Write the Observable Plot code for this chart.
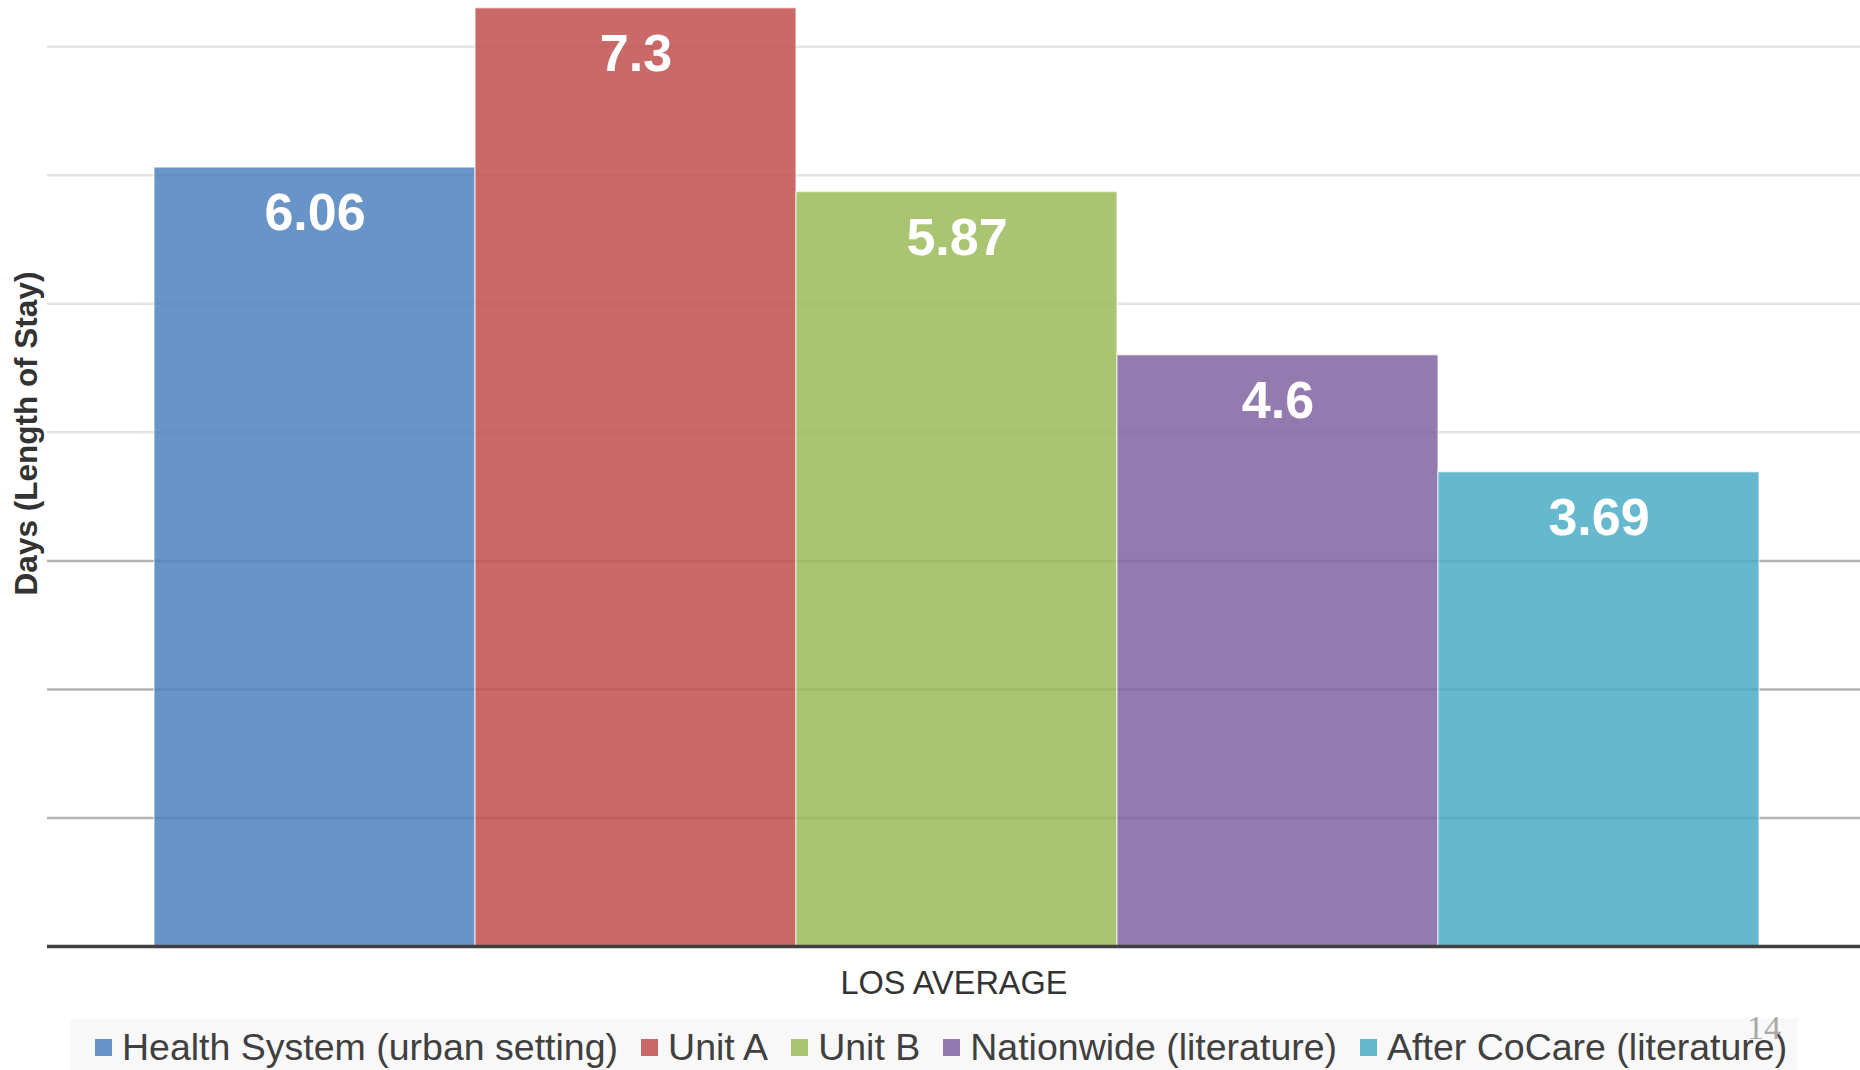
<!DOCTYPE html>
<html>
<head>
<meta charset="utf-8">
<script src="https://cdn.jsdelivr.net/npm/d3@7"></script>
<script src="https://cdn.jsdelivr.net/npm/@observablehq/plot@0.6"></script>
<style>
  html, body { margin: 0; padding: 0; background: #ffffff; }
  body { font-family: "Liberation Sans", Arial, sans-serif; }
  #wrap { position: relative; width: 1860px; height: 1070px; overflow: hidden; }
  #chart svg { display: block; }
  #legend {
    position: absolute; left: 70px; top: 1018px; width: 1728px; height: 52px;
    background: #f8f8f8; display: flex; align-items: center;
    padding-left: 25px; padding-top: 6px; box-sizing: border-box;
    font-size: 37.5px; color: #404040; white-space: nowrap;
  }
  .item { display: flex; align-items: center; margin-right: 23px; }
  .sw { width: 17px; height: 17px; margin-right: 10px; flex: none; }
  #page {
    position: absolute; left: 1747px; top: 1009px;
    font-family: "Liberation Serif", "DejaVu Serif", serif;
    font-size: 34px; color: #a8a8a8;
  }
</style>
</head>
<body>
<div id="wrap">
  <div id="chart"></div>
  <div id="legend"></div>
  <div id="page">14</div>
</div>
<script>
// Average length of stay, in days, by population
const series = [
  "Health System (urban setting)",
  "Unit A",
  "Unit B",
  "Nationwide (literature)",
  "After CoCare (literature)"
];
const values = [6.06, 7.3, 5.87, 4.6, 3.69];
const colors = ["#4F81BD", "#C0504D", "#9BBB59", "#8064A2", "#4BACC6"];
const category = "LOS AVERAGE";
const yTitle = "Days (Length of Stay)";
const gridDark = [1, 2, 3];
const gridLight = [4, 5, 6, 7];

const data = series.map((s, i) => ({series: s, value: values[i]}));

const chart = Plot.plot({
  width: 1860,
  height: 1012,
  marginLeft: 47,
  marginRight: 0,
  marginTop: 0,
  marginBottom: 66,
  style: {fontFamily: "'Liberation Sans', Arial, sans-serif", background: "transparent"},
  x: {domain: series, paddingInner: 0, paddingOuter: 0.32, align: 0.515, axis: null},
  y: {domain: [0, 7.36], axis: null},
  color: {domain: series, range: colors},
  marks: [
    Plot.ruleY(gridLight, {stroke: "#e3e3e3", strokeWidth: 2.5}),
    Plot.ruleY(gridDark, {stroke: "#b3b3b3", strokeWidth: 2.5}),
    Plot.barY(data, {
      x: "series", y: "value", fill: "series", fillOpacity: 0.85,
      stroke: "#ffffff", strokeOpacity: 0.55, strokeWidth: 1.5, inset: 0
    }),
    Plot.ruleY([0], {stroke: "#404040", strokeWidth: 3.5}),
    Plot.text(data, {
      x: "series", y: "value", text: d => String(d.value),
      dy: 46, fill: "#ffffff", fontSize: 52, fontWeight: "bold"
    }),
    Plot.text([category], {
      frameAnchor: "bottom", text: d => d, dy: 47,
      fill: "#333333", fontSize: 32.5
    }),
    Plot.text([yTitle], {
      frameAnchor: "left", textAnchor: "middle", text: d => d, rotate: -90,
      dx: -21, dy: -40, fill: "#333333", fontSize: 31.5, fontWeight: "bold"
    })
  ]
});
document.getElementById("chart").appendChild(chart);

// Legend row beneath the chart
const legend = d3.select("#legend");
series.forEach((s, i) => {
  const item = legend.append("div").attr("class", "item");
  item.append("div").attr("class", "sw")
    .style("background", colors[i]).style("opacity", 0.85);
  item.append("span").text(s);
});
</script>
</body>
</html>
